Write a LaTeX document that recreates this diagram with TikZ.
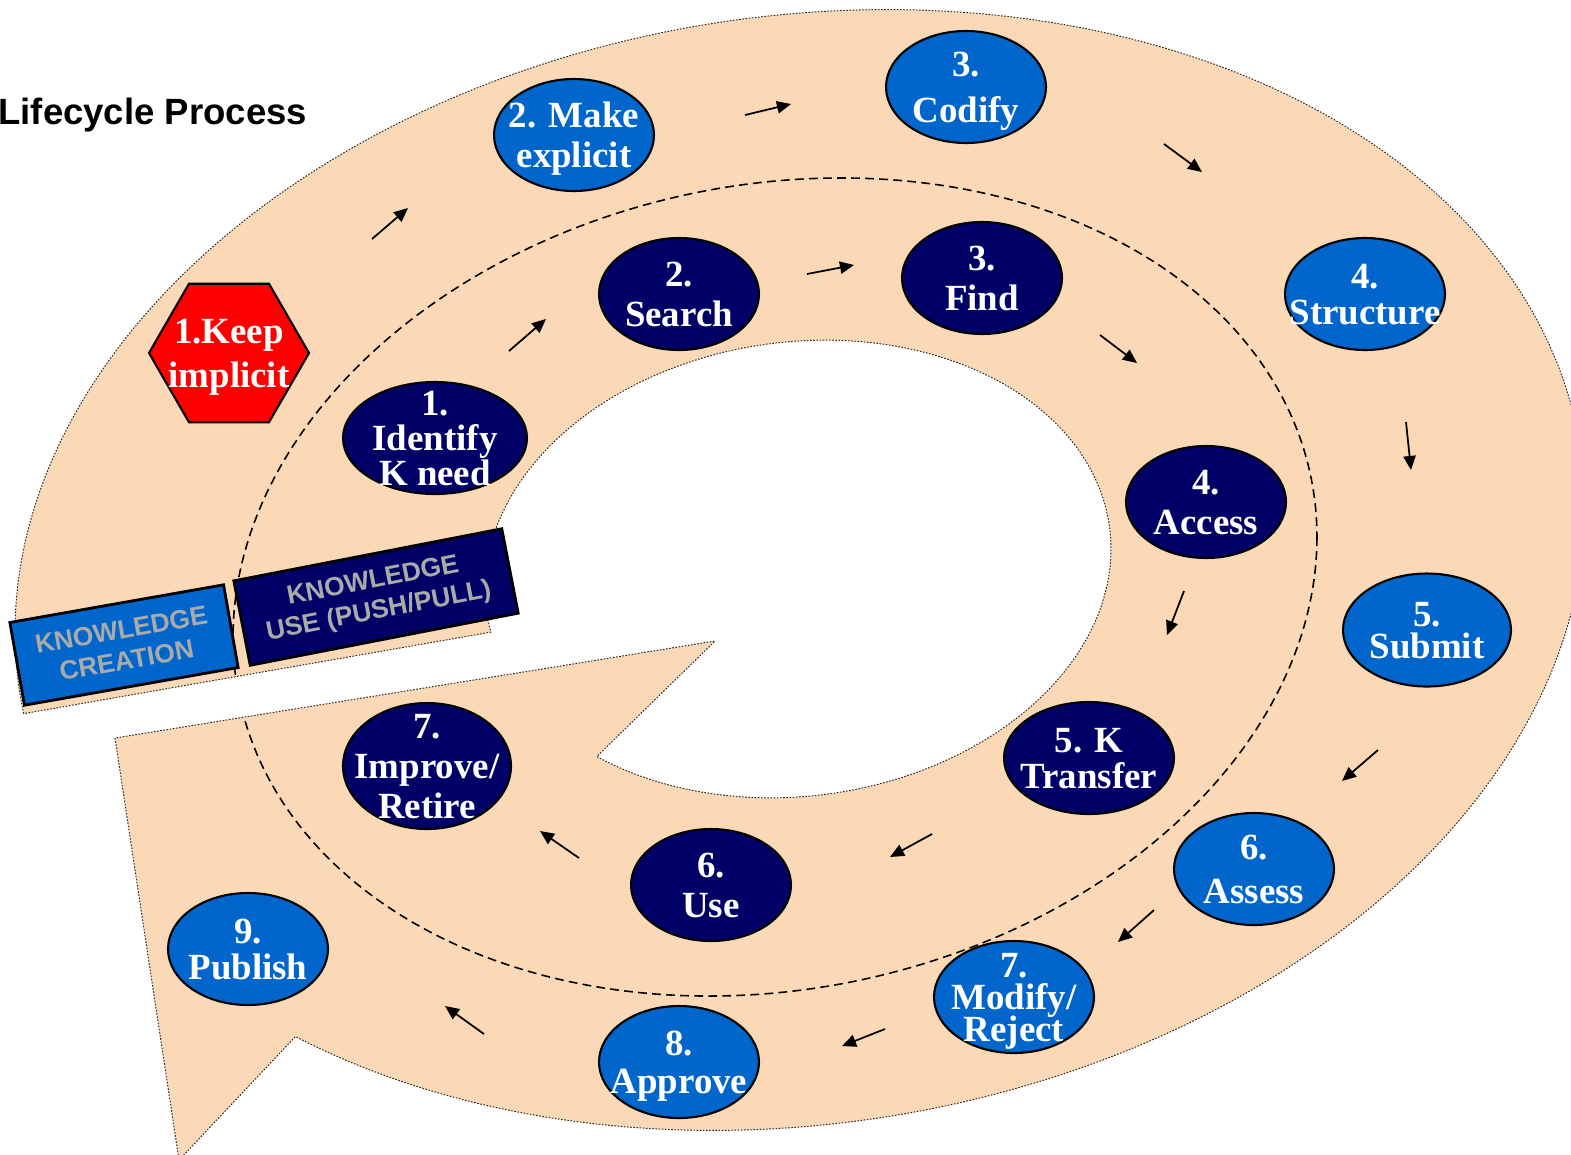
\documentclass[tikz,border=0pt]{standalone}
\usepackage{fontspec}
\newfontfamily\tnr{Liberation Serif}
\newfontfamily\arial{Liberation Sans}
\usetikzlibrary{arrows.meta,shapes.geometric}

\definecolor{stageblue}{RGB}{0,102,204}
\definecolor{stagenavy}{RGB}{0,0,102}
\definecolor{bandfill}{RGB}{251,216,182}
\definecolor{boxtext}{RGB}{170,170,170}

% Centred multi-line label of zero size; #1 = distance between baselines
\newcommand\lbl[2]{%
  \fontsize{21pt}{#1}\selectfont
  \setbox0\vbox{\lineskiplimit=-\maxdimen\lineskip=0pt\baselineskip=#1\relax
    \let\\\cr
    \halign{\hfil\rule{0pt}{1em}##\hfil\cr#2\crcr}}%
  \setbox2\hbox to 0pt{\hss\raise\dimexpr 0pt-(\ht0-0.324em)/2\relax\box0\hss}%
  \ht2=0pt \dp2=0pt \box2}

% The broad curved arrow: outer rim, arrow head, inner rim
\newcommand\bandpath{%
  plot[domain=171.5:490,samples=260,variable=\t]
    ({800+785*cos(\t)},{570-62*cos(\t)+557*sin(\t)})
  -- (179,1160) -- (115,738) -- (715,641)
  -- plot[domain=130:-191,samples=200,variable=\t]
    ({798+313*cos(\t)},{569-20*cos(\t)+228*sin(\t)})
  -- cycle}

\begin{document}
\begin{tikzpicture}[x=0.02cm,y=-0.02cm,
  stage/.style={ellipse, draw=black, line width=1.2pt, inner sep=0pt,
    text=white, font=\tnr\bfseries, minimum width=3.2cm, minimum height=2.24cm},
  outerstage/.style={stage, fill=stageblue},
  innerstage/.style={stage, fill=stagenavy},
  flow/.style={-{Triangle[length=8pt,width=7pt]}, line width=1pt, black},
  kbox/.style={rectangle, draw=black, line width=1.6pt, inner sep=0pt,
    text=boxtext, align=center,
    font=\arial\bfseries\fontsize{15pt}{17.5pt}\selectfont},
  bandedge/.style={draw=black!85, line width=0.55pt, dash pattern=on 0.9pt off 0.9pt},
]
\fill[white] (0,0) rectangle (1571,1154);
\useasboundingbox (0,0) rectangle (1571,1154);

% band
\fill[bandfill] \bandpath;
\begin{scope}
  \clip \bandpath;
  \draw[line width=0.9pt, dash pattern=on 5pt off 3pt]
    plot[domain=0:360,samples=260,variable=\t]
    ({775+542*cos(\t)},{587-50*cos(\t)+406*sin(\t)});
\end{scope}
\path[bandedge] \bandpath;

% title
\node[anchor=base west, inner sep=0pt,
  font=\arial\bfseries\fontsize{20.8pt}{24pt}\selectfont] (title) at (-2,124)
  {Lifecycle Process};

% knowledge creation ring
\node[regular polygon, regular polygon sides=6, minimum size=3.2cm, inner sep=0pt,
  fill=red, draw=black, line width=1.2pt, text=white, font=\tnr\bfseries]
  (keep) at (229,353) {\lbl{24.5pt}{1.Keep\\implicit}};
\node[outerstage] (make) at (574,135) {\lbl{22.8pt}{2. Make\\explicit}};
\node[outerstage] (codify) at (966,87) {\lbl{26pt}{3.\\Codify}};
\node[outerstage] (structure) at (1365,294) {\lbl{20.5pt}{4.\\Structure}};
\node[outerstage, minimum width=3.36cm, minimum height=2.26cm] (submit) at (1427,630) {\lbl{18.2pt}{5.\\Submit}};
\node[outerstage] (assess) at (1254,869) {\lbl{24.5pt}{6.\\Assess}};
\node[outerstage] (modify) at (1014,997) {\lbl{18.2pt}{7.\\Modify/\\Reject}};
\node[outerstage] (approve) at (679,1062) {\lbl{21.6pt}{8.\\Approve}};
\node[outerstage] (publish) at (248,949) {\lbl{20pt}{9.\\Publish}};

% knowledge use ring
\node[innerstage, minimum width=3.68cm] (identify) at (435,438) {\lbl{20pt}{1.\\Identify\\K need}};
\node[innerstage] (search) at (679,294) {\lbl{22.8pt}{2.\\Search}};
\node[innerstage] (find) at (982,278) {\lbl{22.8pt}{3.\\Find}};
\node[innerstage] (access) at (1206,502) {\lbl{23.3pt}{4.\\Access}};
\node[innerstage, minimum width=3.4cm] (transfer) at (1089,758) {\lbl{20.5pt}{5. K\\Transfer}};
\node[innerstage] (use) at (711,885) {\lbl{22.8pt}{6.\\Use}};
\node[innerstage, minimum width=3.36cm, minimum height=2.52cm] (improve) at (427,766) {\lbl{22.8pt}{7.\\Improve/\\Retire}};

% flow arrows
\coordinate (o1s) at (372,239);  \coordinate (o1e) at (408,208);
\coordinate (o2s) at (745,115);  \coordinate (o2e) at (791,104);
\coordinate (o3s) at (1164,144); \coordinate (o3e) at (1202,172);
\coordinate (o4s) at (1406,422); \coordinate (o4e) at (1411,470);
\coordinate (o5s) at (1378,750); \coordinate (o5e) at (1342,781);
\coordinate (o6s) at (1154,910); \coordinate (o6e) at (1118,942);
\coordinate (o7s) at (885,1029); \coordinate (o7e) at (842,1046);
\coordinate (o8s) at (484,1034); \coordinate (o8e) at (445,1006);
\coordinate (i1s) at (509,351);  \coordinate (i1e) at (546,319);
\coordinate (i2s) at (807,274);  \coordinate (i2e) at (854,265);
\coordinate (i3s) at (1100,335); \coordinate (i3e) at (1137,363);
\coordinate (i4s) at (1184,591); \coordinate (i4e) at (1167,635);
\coordinate (i5s) at (932,834);  \coordinate (i5e) at (890,857);
\coordinate (i6s) at (579,858);  \coordinate (i6e) at (540,831);
\foreach \a in {o1,o2,o3,o4,o5,o6,o7,o8,i1,i2,i3,i4,i5,i6}
  \draw[flow] (\a s) -- (\a e);

% ring captions
\node[kbox, fill=stageblue, rotate=10, minimum width=4.34cm, minimum height=1.68cm]
  (creation) at (124,645) {KNOWLEDGE\\CREATION};
\node[kbox, fill=stagenavy, rotate=11, minimum width=5.46cm, minimum height=1.72cm]
  (usebox) at (376,597) {KNOWLEDGE\\USE (PUSH/PULL)};
\end{tikzpicture}
\end{document}
